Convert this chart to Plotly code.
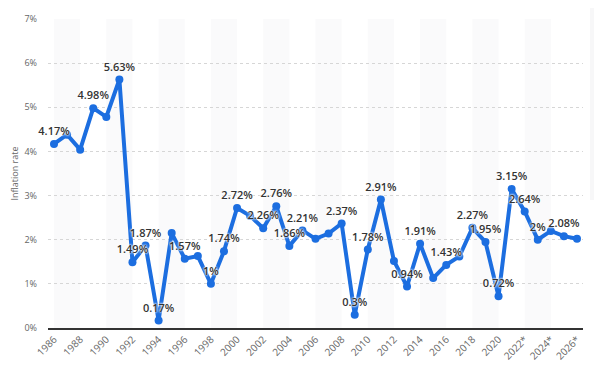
import plotly.graph_objects as go

years = list(range(1986, 2027))
rates = [4.17, 4.38, 4.04, 4.98, 4.78, 5.63, 1.49, 1.87, 0.17, 2.15,
         1.57, 1.63, 1.00, 1.74, 2.72, 2.54, 2.26, 2.76, 1.86, 2.21,
         2.02, 2.14, 2.37, 0.30, 1.78, 2.91, 1.52, 0.94, 1.91, 1.13,
         1.43, 1.62, 2.27, 1.95, 0.72, 3.15, 2.64, 2.00, 2.20, 2.08, 2.02]
labels = ["4.17%", "", "", "4.98%", "", "5.63%", "1.49%", "1.87%", "0.17%", "",
          "1.57%", "", "1%", "1.74%", "2.72%", "", "2.26%", "2.76%", "1.86%", "2.21%",
          "", "", "2.37%", "0.3%", "1.78%", "2.91%", "", "0.94%", "1.91%", "",
          "1.43%", "", "2.27%", "1.95%", "0.72%", "3.15%", "2.64%", "2%", "", "2.08%", ""]
tick_years = list(range(1986, 2027, 2))
tick_text = [str(y) if y < 2022 else f"{y}*" for y in tick_years]
band_starts = list(range(1986, 2025, 4))
y_ticks = [0, 1, 2, 3, 4, 5, 6, 7]

blue = "#1c6ee0"

fig = go.Figure()
fig.add_trace(go.Scatter(
    x=years, y=rates, mode="lines+markers+text",
    text=labels, textposition="top center",
    textfont=dict(family="Open Sans", size=11, color="#333333", weight=600,
                  shadow="0px 0px 2px #ffffff, 0px 0px 2px #ffffff, 0px 0px 3px #ffffff"),
    line=dict(color=blue, width=4),
    marker=dict(color=blue, size=8),
    cliponaxis=False,
    hoverinfo="skip",
))

shapes = []
for s in band_starts:
    shapes.append(dict(type="rect", xref="x", yref="paper", x0=s, x1=s + 2, y0=0, y1=1,
                       fillcolor="#fafafb", line=dict(width=0), layer="below"))
# decorative side panel buttons
shapes.append(dict(type="rect", xref="paper", yref="paper",
                   x0=(590 - 48) / 535, x1=(620 - 48) / 535,
                   y0=(328 - 200) / 309, y1=(328 - (-10)) / 309,
                   fillcolor="#f7f7f8", line=dict(width=0), layer="above"))
for (t, b) in [(-5, 17), (25, 52), (60, 88), (96, 123), (131, 158), (165, 193)]:
    shapes.append(dict(type="rect", xref="paper", yref="paper",
                       x0=(596 - 48) / 535, x1=(620 - 48) / 535,
                       y0=(328 - b) / 309, y1=(328 - t) / 309,
                       fillcolor="#ffffff", line=dict(color="#dfe1e5", width=1), layer="above"))

# page body has an 8px margin, so margins are reduced by 8px on left/top
fig.update_layout(
    width=602, height=370,
    margin=dict(l=40, r=27, t=11, b=50),
    paper_bgcolor="#ffffff", plot_bgcolor="#ffffff",
    showlegend=False,
    shapes=shapes,
    font=dict(family="Open Sans", color="#666666"),
    xaxis=dict(
        range=[1985.54, 2026.46], automargin=False,
        tickmode="array", tickvals=tick_years, ticktext=tick_text,
        tickangle=-45, tickfont=dict(size=10, color="#666666"),
        showgrid=False, zeroline=False,
        showline=True, linecolor="#333333", linewidth=1.5,
        ticks="",
    ),
    yaxis=dict(
        range=[0, 7], automargin=False,
        tickmode="array", tickvals=y_ticks, ticktext=[f"{v}%" for v in y_ticks],
        tickfont=dict(size=9, color="#666666"),
        showgrid=True, gridcolor="#d6d6d6", griddash="dot", gridwidth=1,
        zeroline=False, ticklabelstandoff=10,
        title=dict(text="Inflation rate", font=dict(size=9, color="#666666"), standoff=12),
    ),
)

fig.write_html("out.html")
